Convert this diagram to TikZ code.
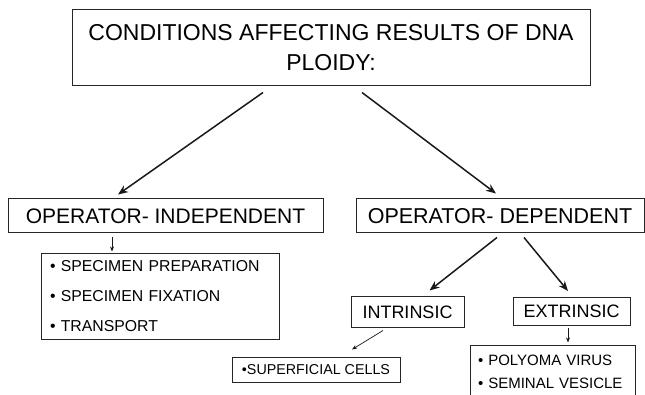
\documentclass[tikz,border=0pt]{standalone}
\usepackage{fontspec}
\setmainfont{Liberation Sans}
\usetikzlibrary{arrows.meta}
\tikzset{
  box/.style={draw=black!85, line width=1pt, rectangle, inner sep=0pt, align=center},
  listbox/.style={box, align=left, inner xsep=9pt},
  bigarrow/.style={-{Stealth[length=10pt,width=8pt]}, line width=1.5pt, black!90},
  smallarrow/.style={-{Stealth[length=5pt,width=4pt]}, line width=0.7pt, black!90},
}
\newcommand{\drawbox}{\node[box]}
\newcommand{\drawlist}{\node[listbox]}

\begin{document}
\begin{tikzpicture}[x=1pt,y=-1pt]
\useasboundingbox (0,0) rectangle (645,395);
%top level
\drawbox[minimum width=518pt, minimum height=76pt, font=\fontsize{23}{30}\selectfont] (cond) at (331,48) {CONDITIONS AFFECTING RESULTS OF DNA\\PLOIDY:};
\drawbox[minimum width=315pt, minimum height=34pt, font=\fontsize{21}{25}\selectfont] (oi) at (165.5,216) {OPERATOR- INDEPENDENT};
\drawbox[minimum width=288pt, minimum height=34pt, font=\fontsize{21.5}{25}\selectfont] (od) at (500,216) {OPERATOR- DEPENDENT};
\drawlist[minimum width=238pt, minimum height=85pt, text width=220pt, font=\fontsize{15.8}{30}\selectfont] (oilist) at (160,296.5) {\textbullet\ SPECIMEN PREPARATION\\\textbullet\ SPECIMEN FIXATION\\\textbullet\ TRANSPORT};
\drawbox[minimum width=113pt, minimum height=30pt, font=\fontsize{18}{22}\selectfont] (intr) at (407.5,312) {INTRINSIC};
\drawbox[minimum width=117pt, minimum height=28pt, font=\fontsize{18}{22}\selectfont] (extr) at (571.5,311.5) {EXTRINSIC};
\drawbox[minimum width=168pt, minimum height=25pt, font=\fontsize{14.3}{18}\selectfont] (sup) at (316,369.5) {\textbullet SUPERFICIAL CELLS};
\drawlist[minimum width=165pt, minimum height=53pt, inner xsep=8pt, text width=149pt, font=\fontsize{15}{23}\selectfont] (extlist) at (552.5,371.5) {\textbullet\ POLYOMA VIRUS\\\textbullet\ SEMINAL VESICLE};

\draw[bigarrow] ([xshift=-68pt,yshift=-6pt]cond.south) -- ([xshift=-47.5pt,yshift=4pt]oi.north);
\draw[bigarrow] ([xshift=31pt,yshift=-6pt]cond.south) -- ([xshift=-4pt,yshift=5pt]od.north);
\draw[smallarrow] ([xshift=-53.5pt,yshift=-4pt]oi.south) -- ([xshift=-48pt,yshift=2pt]oilist.north);
\draw[bigarrow] ([xshift=-3pt,yshift=-4pt]od.south) -- ([xshift=22pt,yshift=6pt]intr.north);
\draw[bigarrow] ([xshift=24pt,yshift=-4pt]od.south) -- ([xshift=-3.5pt,yshift=6pt]extr.north);
\draw[smallarrow] ([xshift=-24.5pt,yshift=-3pt]intr.south) -- ([xshift=36pt,yshift=7pt]sup.north);
\draw[smallarrow] ([xshift=-3.5pt,yshift=-2pt]extr.south) -- ([xshift=15.5pt,yshift=2pt]extlist.north);

\end{tikzpicture}
\end{document}
